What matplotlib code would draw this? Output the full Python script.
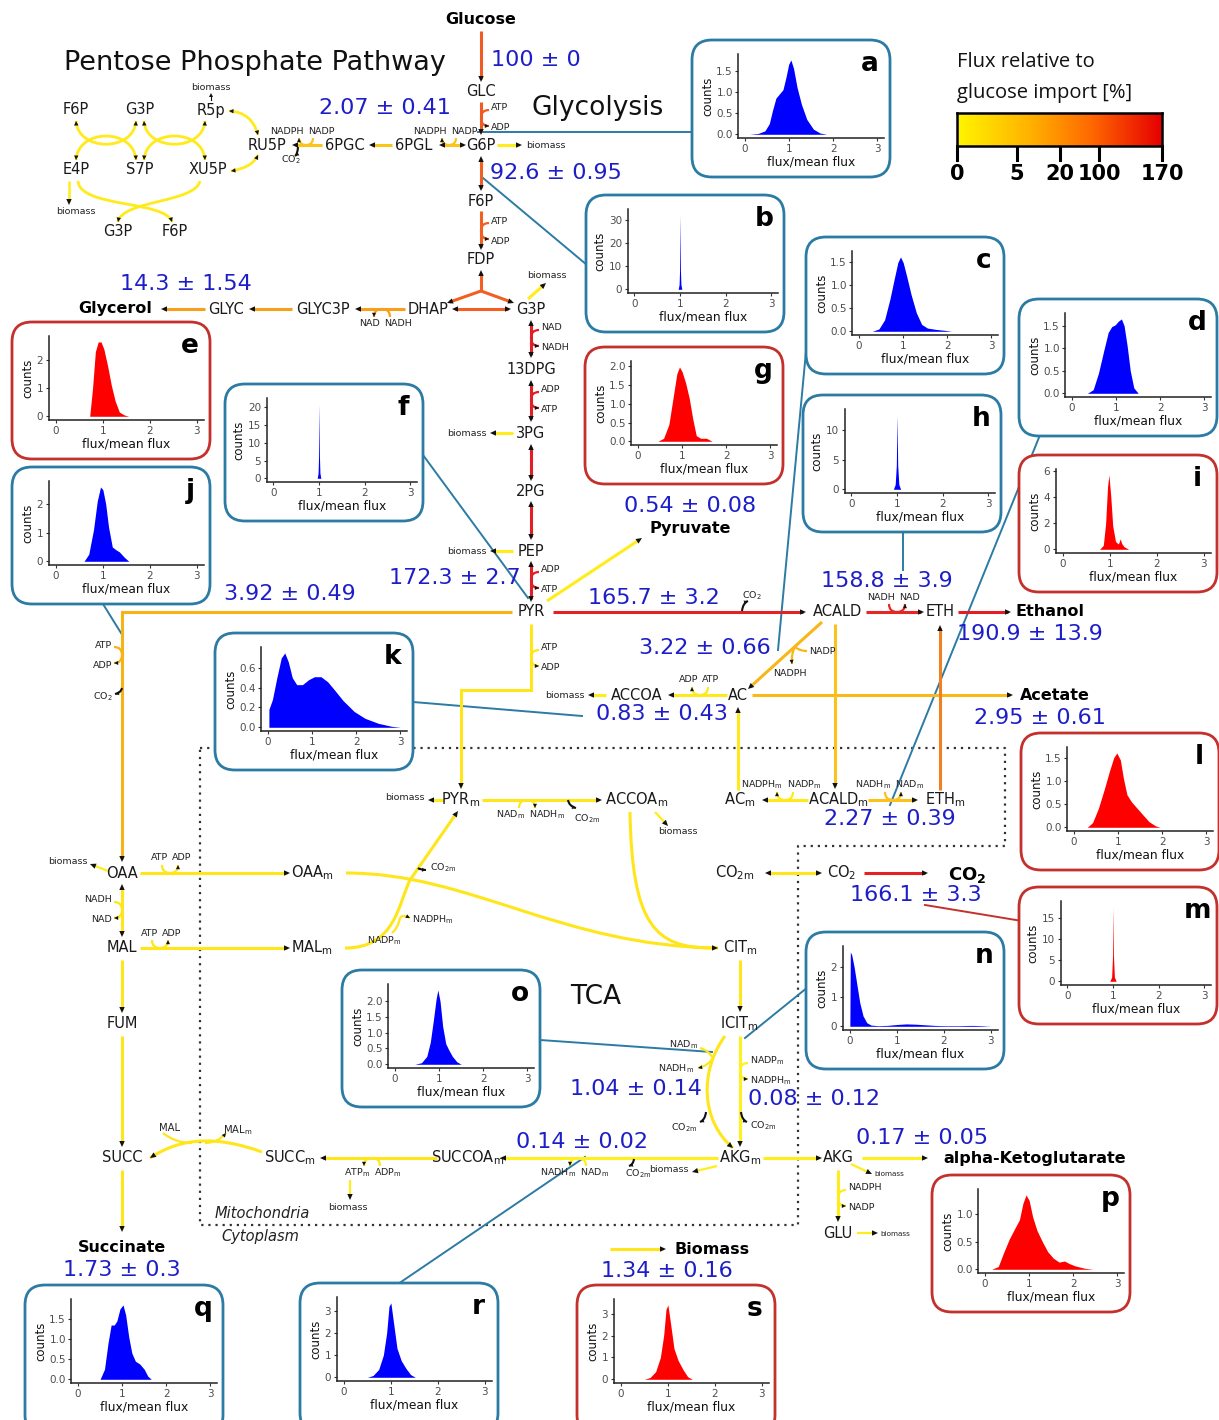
import numpy as np
import matplotlib
matplotlib.use("Agg")
import matplotlib.pyplot as plt
from matplotlib.patches import FancyBboxPatch, PathPatch, Polygon
from matplotlib.path import Path
from matplotlib.colors import LinearSegmentedColormap

plt.rcParams['font.family'] = ['DejaVu Sans']
plt.rcParams['mathtext.fontset'] = 'dejavusans'

# ======================= DATA =======================
# colour scale: flux relative to glucose import [%]
scale_ticks = [0, 5, 20, 100, 170]
scale_pos = [0.0, 0.293, 0.502, 0.693, 1.0]

# measured fluxes (mean +- sd, % of glucose import)
flux_mean = [100, 2.07, 92.6, 14.3, 172.3, 0.54, 3.92, 165.7, 158.8, 190.9, 3.22,
             0.83, 2.95, 2.27, 166.1, 1.04, 0.08, 0.14, 0.17, 1.34, 1.73]
flux_sd = [0, 0.41, 0.95, 1.54, 2.7, 0.08, 0.49, 3.2, 3.9, 13.9, 0.66,
           0.43, 0.61, 0.39, 3.3, 0.14, 0.12, 0.02, 0.05, 0.16, 0.3]

# density curves (flux/mean flux vs counts)
a_x = [0.10, 0.30, 0.45, 0.55, 0.62, 0.70, 0.78, 0.86, 0.93, 0.99, 1.04, 1.10, 1.18, 1.28, 1.40, 1.55, 1.70, 1.85]
a_y = [0.00, 0.02, 0.08, 0.25, 0.55, 0.85, 0.95, 1.05, 1.35, 1.65, 1.75, 1.55, 1.10, 0.70, 0.35, 0.12, 0.03, 0.00]
b_x = [0.96, 0.98, 0.99, 1.0, 1.01, 1.02, 1.04]
b_y = [0.0, 2.0, 8.0, 32.0, 8.0, 2.0, 0.0]
c_x = [0.30, 0.45, 0.58, 0.70, 0.80, 0.88, 0.94, 1.00, 1.08, 1.18, 1.30, 1.42, 1.55, 1.75, 1.95, 2.10]
c_y = [0.00, 0.05, 0.25, 0.70, 1.15, 1.50, 1.62, 1.50, 1.20, 0.80, 0.40, 0.15, 0.07, 0.04, 0.02, 0.00]
d_x = [0.35, 0.48, 0.60, 0.72, 0.82, 0.90, 0.98, 1.05, 1.12, 1.18, 1.25, 1.32, 1.40, 1.50]
d_y = [0.00, 0.08, 0.45, 0.95, 1.35, 1.48, 1.52, 1.60, 1.65, 1.50, 1.05, 0.50, 0.12, 0.00]
e_x = [0.72, 0.78, 0.84, 0.90, 0.96, 1.02, 1.10, 1.18, 1.26, 1.35, 1.45, 1.55]
e_y = [0.00, 1.00, 2.30, 2.65, 2.65, 2.40, 1.80, 1.10, 0.55, 0.15, 0.05, 0.00]
f_x = [0.96, 0.98, 0.99, 1.0, 1.01, 1.02, 1.04]
f_y = [0.0, 1.5, 6.0, 21.0, 6.0, 1.5, 0.0]
g_x = [0.45, 0.58, 0.70, 0.80, 0.88, 0.94, 1.00, 1.08, 1.16, 1.24, 1.32, 1.42, 1.55, 1.68]
g_y = [0.00, 0.08, 0.45, 1.20, 1.80, 1.98, 1.85, 1.55, 1.15, 0.60, 0.15, 0.08, 0.08, 0.00]
h_x = [0.92, 0.96, 0.985, 1.0, 1.015, 1.04, 1.08]
h_y = [0.0, 0.8, 4.0, 12.5, 4.0, 0.8, 0.0]
i_x = [0.78, 0.86, 0.91, 0.95, 0.98, 1.02, 1.06, 1.12, 1.18, 1.22, 1.25, 1.30, 1.40]
i_y = [0.00, 0.30, 2.00, 4.80, 5.70, 4.00, 1.80, 0.60, 0.40, 0.80, 0.45, 0.20, 0.00]
j_x = [0.60, 0.70, 0.80, 0.88, 0.95, 1.00, 1.06, 1.12, 1.20, 1.28, 1.35, 1.45, 1.55]
j_y = [0.00, 0.25, 1.10, 2.10, 2.60, 2.50, 2.00, 1.20, 0.50, 0.40, 0.33, 0.15, 0.00]
k_x = [0.02, 0.02, 0.10, 0.20, 0.30, 0.38, 0.46, 0.55, 0.65, 0.78, 0.92, 1.05, 1.20, 1.35, 1.50, 1.70, 1.95, 2.20, 2.50, 2.80, 3.00]
k_y = [0.00, 0.18, 0.28, 0.50, 0.70, 0.75, 0.66, 0.50, 0.43, 0.43, 0.48, 0.51, 0.51, 0.46, 0.38, 0.27, 0.16, 0.09, 0.04, 0.01, 0.00]
l_x = [0.30, 0.42, 0.55, 0.68, 0.80, 0.90, 0.97, 1.05, 1.12, 1.20, 1.30, 1.42, 1.55, 1.70, 1.85, 1.95]
l_y = [0.00, 0.10, 0.40, 0.80, 1.20, 1.50, 1.60, 1.45, 1.05, 0.70, 0.55, 0.42, 0.28, 0.12, 0.03, 0.00]
m_x = [0.93, 0.97, 0.99, 1.0, 1.01, 1.03, 1.07]
m_y = [0.0, 1.0, 6.0, 17.5, 6.0, 1.0, 0.0]
n_x = [0.00, 0.01, 0.04, 0.09, 0.15, 0.21, 0.28, 0.36, 0.45, 0.60, 0.80, 1.00, 1.20, 1.40, 1.60, 1.80, 2.00, 2.30, 2.60, 2.80, 3.00]
n_y = [0.00, 2.50, 2.40, 2.00, 1.40, 0.80, 0.35, 0.12, 0.04, 0.02, 0.03, 0.06, 0.08, 0.07, 0.05, 0.03, 0.02, 0.02, 0.03, 0.02, 0.00]
o_x = [0.45, 0.60, 0.72, 0.80, 0.87, 0.93, 0.97, 1.02, 1.08, 1.15, 1.22, 1.30, 1.40, 1.50]
o_y = [0.00, 0.05, 0.25, 0.70, 1.40, 2.05, 2.35, 2.00, 1.20, 0.65, 0.45, 0.25, 0.08, 0.00]
p_x = [0.15, 0.30, 0.42, 0.55, 0.68, 0.78, 0.86, 0.93, 1.00, 1.08, 1.18, 1.30, 1.42, 1.55, 1.68, 1.80, 1.92, 2.05, 2.25, 2.45]
p_y = [0.00, 0.05, 0.30, 0.55, 0.75, 0.90, 1.20, 1.35, 1.25, 0.95, 0.70, 0.50, 0.32, 0.20, 0.13, 0.15, 0.10, 0.06, 0.02, 0.00]
q_x = [0.50, 0.60, 0.68, 0.75, 0.82, 0.88, 0.95, 1.02, 1.08, 1.15, 1.22, 1.30, 1.40, 1.50, 1.58, 1.66]
q_y = [0.00, 0.25, 0.90, 1.35, 1.35, 1.45, 1.75, 1.85, 1.60, 1.05, 0.65, 0.45, 0.38, 0.25, 0.08, 0.00]
r_x = [0.50, 0.62, 0.74, 0.84, 0.91, 0.96, 1.00, 1.06, 1.13, 1.22, 1.32, 1.42, 1.52]
r_y = [0.00, 0.08, 0.35, 1.00, 2.00, 3.20, 3.35, 2.40, 1.30, 0.75, 0.40, 0.12, 0.00]
s_x = [0.50, 0.62, 0.74, 0.84, 0.91, 0.96, 1.00, 1.06, 1.13, 1.22, 1.32, 1.42, 1.52]
s_y = [0.00, 0.08, 0.35, 1.00, 2.00, 3.20, 3.40, 2.50, 1.40, 0.85, 0.45, 0.12, 0.00]

inset_xticks = [0, 1, 2, 3]
a_yt = [0, 0.5, 1, 1.5]; b_yt = [0, 10, 20, 30]; c_yt = [0, 0.5, 1, 1.5]; d_yt = [0, 0.5, 1, 1.5]
e_yt = [0, 1, 2]; f_yt = [0, 5, 10, 15, 20]; g_yt = [0, 0.5, 1, 1.5, 2]; h_yt = [0, 5, 10]
i_yt = [0, 2, 4, 6]; j_yt = [0, 1, 2]; k_yt = [0, 0.2, 0.4, 0.6]; l_yt = [0, 0.5, 1, 1.5]
m_yt = [0, 5, 10, 15]; n_yt = [0, 1, 2]; o_yt = [0, 0.5, 1, 1.5, 2]; p_yt = [0, 0.5, 1]
q_yt = [0, 0.5, 1, 1.5]; r_yt = [0, 1, 2, 3]; s_yt = [0, 1, 2, 3]

# ======================= FIGURE =======================
W, H = 1219, 1420
fig = plt.figure(figsize=(W / 100, H / 100), dpi=100)
fig.patch.set_facecolor('white')
ax = fig.add_axes([0, 0, 1, 1])
ax.set_xlim(0, W)
ax.set_ylim(H, 0)
ax.axis('off')

# colour of the reaction arrows
cmap = LinearSegmentedColormap.from_list(
    'flux', [(0.0, '#FFF21C'), (0.06, '#FFE61A'), (0.12, '#FAC51A'), (0.2, '#F7B518'),
             (0.42, '#F6A01B'), (0.7, '#F05A23'), (1.0, '#E31E24')])
# colour of the legend bar
cmap_bar = LinearSegmentedColormap.from_list(
    'bar', [(0.0, '#FFF500'), (0.35, '#FFB300'), (0.65, '#FF6A00'), (1.0, '#E60000')])


def col(v):
    return cmap(float(np.interp(v, scale_ticks, scale_pos)))


BLUE_T = '#1E1EC8'
NODE_C = '#1a1a1a'
CFS = 6.8


def head_at(tip, d, L=6.0, Wd=2.7, color='#111111', z=7):
    d = np.asarray(d, float)
    d = d / np.hypot(d[0], d[1])
    n = np.array([-d[1], d[0]])
    tip = np.asarray(tip, float)
    b = tip - L * d
    ax.add_patch(Polygon([tip, b + Wd * n, b - Wd * n], closed=True, fc=color, ec='none', zorder=z))


def arr(pts, v=None, color=None, lw=2.2, end=True, start=False, z=3):
    c = color if color is not None else col(v)
    p = np.array(pts, float)
    q = p.copy()
    if end:
        d = p[-1] - p[-2]; d /= np.hypot(*d); q[-1] = p[-1] - 3 * d
    if start:
        d = p[0] - p[1]; d /= np.hypot(*d); q[0] = p[0] - 3 * d
    ax.plot(q[:, 0], q[:, 1], color=c, lw=lw, solid_capstyle='butt', solid_joinstyle='miter', zorder=z)
    if end:
        head_at(p[-1], p[-1] - p[-2])
    if start:
        head_at(p[0], p[0] - p[1])


def bez(pts, color, lw=2.2, end=False, start=False, z=3, hl=6.0, hw=2.7):
    pts = [tuple(map(float, p)) for p in pts]
    n = len(pts)
    if n == 2:
        codes = [Path.MOVETO, Path.LINETO]
    elif n == 3:
        codes = [Path.MOVETO, Path.CURVE3, Path.CURVE3]
    else:
        codes = [Path.MOVETO] + [Path.CURVE4] * (n - 1)
    ax.add_patch(PathPatch(Path(pts, codes), fc='none', ec=color, lw=lw, zorder=z, capstyle='butt'))
    if end:
        head_at(pts[-1], np.subtract(pts[-1], pts[-2]), L=hl, Wd=hw)
    if start:
        head_at(pts[0], np.subtract(pts[0], pts[1]), L=hl, Wd=hw)


def lab(x, y, s, fs=CFS, ha='center', va='center', color='#222222', **kw):
    ax.text(x, y, s, fontsize=fs, ha=ha, va=va, color=color, zorder=8, **kw)


def node(x, y, s, fs=10.5, **kw):
    ax.text(x, y, s, fontsize=fs, ha='center', va='center', color=NODE_C, zorder=8, **kw)


def bold(x, y, s, fs=11.5, ha='center'):
    ax.text(x, y, s, fontsize=fs, ha=ha, va='center', color='black', fontweight='bold', zorder=8)


def cof(orient, x, y, side, flow, v, lin, lout, d=8.0, fs=CFS):
    c = col(v)
    if orient == 'v':
        s0 = (x + side * d, y - flow * d)
        e1 = (x + side * d, y + flow * d)
        bez([s0, (x, y - flow * d), (x, y)], c, 1.6)
        bez([(x, y), (x, y + flow * d), e1], c, 1.6, end=True, hl=4.2, hw=2.0)
        ha = 'left' if side > 0 else 'right'
        lab(x + side * (d + 2), y - flow * (d + 2), lin, fs, ha=ha)
        lab(x + side * (d + 2), y + flow * (d + 2), lout, fs, ha=ha)
    else:
        s0 = (x - flow * d, y + side * d)
        e1 = (x + flow * d, y + side * d)
        bez([s0, (x - flow * d, y), (x, y)], c, 1.6)
        bez([(x, y), (x + flow * d, y), e1], c, 1.6, end=True, hl=4.2, hw=2.0)
        yl = y + side * (d + 7)
        left_lab, right_lab = (lin, lout) if flow > 0 else (lout, lin)
        lab(x - 2, yl, left_lab, fs, ha='right')
        lab(x + 2, yl, right_lab, fs, ha='left')


def co2(x, y, dx, dy):
    bez([(x, y), (x + dx * 0.15, y + dy * 0.8), (x + dx, y + dy)], '#111111', 1.5, end=True, hl=4.0, hw=2.0)


CO2m = r'CO$_{2\mathrm{m}}$'
BIO = 'biomass'

# ----------------- titles -----------------
ax.text(255, 63, 'Pentose Phosphate Pathway', fontsize=19.5, ha='center', va='center', color='#111111')
ax.text(598, 108, 'Glycolysis', fontsize=19, ha='center', va='center', color='#111111')
ax.text(596, 997, 'TCA', fontsize=19, ha='center', va='center', color='#111111')
ax.text(262, 1214, 'Mitochondria', fontsize=10.5, style='italic', ha='center', va='center', color='#222222')
ax.text(260, 1236, 'Cytoplasm', fontsize=10.5, style='italic', ha='center', va='center', color='#222222')

# ----------------- glycolysis -----------------
bold(481, 20, 'Glucose')
node(481, 92, 'GLC'); node(481, 145, 'G6P'); node(481, 201, 'F6P'); node(481, 260, 'FDP')
node(428, 309, 'DHAP'); node(531, 309, 'G3P'); node(531, 369, '13DPG'); node(531, 433, '3PG')
node(531, 491, '2PG'); node(531, 551, 'PEP'); node(531, 612, 'PYR')

arr([(481, 31), (481, 82)], 100)
arr([(481, 102), (481, 135)], 100)
cof('v', 481, 118, +1, +1, 100, 'ATP', 'ADP')
arr([(481, 156), (481, 191)], 92.6, start=True)
arr([(481, 211), (481, 250)], 92.6)
cof('v', 481, 231, +1, +1, 92.6, 'ATP', 'ADP')
arr([(481, 291), (481, 270)], 92.6)
arr([(481, 291), (447, 303)], 92.6)
arr([(481, 291), (514, 303)], 92.6)
arr([(452, 309), (511, 309)], 92.6, start=True)
arr([(528, 299), (546, 283)], 0.5)
lab(547, 276, BIO)
arr([(531, 320), (531, 358)], 172.3, start=True)
cof('v', 531, 338, +1, +1, 172.3, 'NAD', 'NADH')
arr([(531, 380), (531, 422)], 172.3, start=True)
cof('v', 531, 400, +1, +1, 172.3, 'ADP', 'ATP')
arr([(513, 433), (490, 433)], 0.5)
lab(487, 433, BIO, ha='right')
arr([(531, 444), (531, 481)], 172.3, start=True)
arr([(531, 501), (531, 540)], 172.3, start=True)
arr([(513, 551), (490, 551)], 0.5)
lab(487, 551, BIO, ha='right')
arr([(531, 561), (531, 602)], 172.3, start=True)
cof('v', 531, 580, +1, +1, 172.3, 'ADP', 'ATP')

# ----------------- PPP -----------------
node(76, 110, 'F6P'); node(140, 110, 'G3P'); node(211, 110, 'R5p')
node(267, 145, 'RU5P'); node(345, 145, '6PGC'); node(414, 145, '6PGL')
node(76, 170, 'E4P'); node(140, 170, 'S7P'); node(208, 170, 'XU5P')
node(118, 232, 'G3P'); node(175, 232, 'F6P')
arr([(466, 145), (439, 145)], 2.07, start=True)
cof('h', 449, 145, -1, -1, 2.07, 'NADP', 'NADPH', d=7)
arr([(392, 145), (369, 145)], 2.07)
arr([(322, 145), (292, 145)], 2.07)
cof('h', 306, 145, -1, -1, 2.07, 'NADP', 'NADPH', d=7)
co2(298, 147, -3, 9)
lab(291, 160, r'CO$_2$')
arr([(497, 145), (522, 145)], 0.5)
lab(526, 145, BIO, ha='left')
yc = col(0.6)
bez([(76, 121), (78, 152), (134, 152), (136, 121)], yc, 2.0, end=True, start=True, hl=4.5, hw=2.2)
bez([(76, 160), (78, 128), (134, 128), (136, 160)], yc, 2.0, end=True, start=True, hl=4.5, hw=2.2)
bez([(144, 121), (146, 152), (203, 152), (205, 121)], yc, 2.0, end=True, start=True, hl=4.5, hw=2.2)
bez([(144, 160), (146, 128), (203, 128), (205, 160)], yc, 2.0, end=True, start=True, hl=4.5, hw=2.2)
bez([(78, 181), (80, 208), (165, 200), (172, 222)], yc, 2.0, end=True, hl=4.5, hw=2.2)
bez([(200, 181), (195, 203), (122, 200), (118, 222)], yc, 2.0, end=True, hl=4.5, hw=2.2)
bez([(229, 111), (252, 112), (258, 135)], yc, 2.0, end=True, start=True, hl=4.5, hw=2.2)
bez([(231, 171), (252, 168), (258, 155)], yc, 2.0, end=True, start=True, hl=4.5, hw=2.2)
head_at((211, 93), (0, -1), L=4, Wd=2)
ax.plot([211, 211], [100, 95], color='#111111', lw=0.8, zorder=4)
lab(211, 88, BIO)
arr([(69, 181), (69, 205)], 0.5, lw=1.8)
lab(76, 212, BIO)

# ----------------- glycerol -----------------
bold(115, 309, 'Glycerol')
node(226, 309, 'GLYC'); node(323, 309, 'GLYC3P')
arr([(405, 309), (355, 309)], 14.3)
cof('h', 382, 309, +1, -1, 14.3, 'NADH', 'NAD')
arr([(292, 309), (249, 309)], 14.3)
arr([(205, 309), (161, 309)], 14.3)

# ----------------- pyruvate branch -----------------
bold(690, 528, 'Pyruvate')
node(838, 612, 'ACALD'); node(940, 612, 'ETH'); node(738, 695, 'AC'); node(637, 695, 'ACCOA')
bold(1050, 612, 'Ethanol', ha='center')
bold(1055, 695, 'Acetate')
arr([(547, 601), (642, 538)], 0.54)
arr([(553, 612), (806, 612)], 165.7)
co2(742, 611, 6, -10)
lab(752, 596, r'CO$_2$')
arr([(866, 612), (924, 612)], 158.8)
cof('h', 897, 612, -1, +1, 158.8, 'NADH', 'NAD')
arr([(958, 612), (1011, 612)], 190.9)
arr([(512, 612), (122, 612), (122, 862)], 3.92)
cof('v', 122, 655, -1, +1, 3.92, 'ATP', 'ADP')
co2(122, 688, -7, 6)
lab(113, 697, r'CO$_2$', ha='right')
arr([(531, 624), (531, 690), (461, 690), (461, 789)], 1.0)
cof('v', 531, 658, +1, +1, 1.0, 'ATP', 'ADP')
arr([(822, 622), (748, 689)], 3.22)
bez([(807, 651), (800, 651), (795, 647)], col(3.22), 1.6)
bez([(795, 647), (791, 654), (792, 664)], col(3.22), 1.6, end=True, hl=4.2, hw=2.0)
lab(809, 651, 'NADP', ha='left')
lab(790, 674, 'NADPH')
arr([(727, 695), (668, 695)], 0.83)
cof('h', 700, 695, -1, -1, 0.83, 'ATP', 'ADP')
arr([(606, 695), (588, 695)], 0.5)
lab(585, 695, BIO, ha='right')
arr([(752, 695), (1013, 695)], 2.95)
arr([(835, 624), (835, 789)], 2.27)
arr([(940, 790), (940, 625)], 40)
arr([(738, 790), (738, 707)], 0.8)

# ----------------- mitochondria -----------------
xs = [200, 1005, 1005, 798, 798, 200, 200]
ys = [748, 748, 846, 846, 1225, 1225, 748]
ax.plot(xs, ys, ls=(0, (1, 2.2)), color='#333333', lw=1.6, zorder=2)

node(461, 800, r'PYR$_{\mathrm{m}}$'); node(637, 800, r'ACCOA$_{\mathrm{m}}$')
node(740, 800, r'AC$_{\mathrm{m}}$'); node(838, 800, r'ACALD$_{\mathrm{m}}$'); node(945, 800, r'ETH$_{\mathrm{m}}$')
node(312, 873, r'OAA$_{\mathrm{m}}$'); node(312, 948, r'MAL$_{\mathrm{m}}$')
node(740, 948, r'CIT$_{\mathrm{m}}$'); node(740, 1024, r'ICIT$_{\mathrm{m}}$'); node(740, 1158, r'AKG$_{\mathrm{m}}$')
node(468, 1158, r'SUCCOA$_{\mathrm{m}}$'); node(290, 1158, r'SUCC$_{\mathrm{m}}$'); node(735, 873, r'CO$_{2\mathrm{m}}$')
node(122, 873, 'OAA'); node(122, 948, 'MAL'); node(122, 1024, 'FUM'); node(122, 1158, 'SUCC')
node(842, 873, r'CO$_2$'); node(838, 1158, 'AKG'); node(838, 1233, 'GLU')
ax.text(967, 875, r'$\mathbf{CO_2}$', fontsize=13, ha='center', va='center', zorder=8)
bold(1035, 1159, 'alpha-Ketoglutarate')
bold(712, 1249, 'Biomass')
bold(122, 1248, 'Succinate')

arr([(808, 800), (762, 800)], 0.8)
cof('h', 785, 800, -1, -1, 0.8, r'NADP$_{\mathrm{m}}$', r'NADPH$_{\mathrm{m}}$')
arr([(868, 800), (918, 800)], 2.27)
cof('h', 893, 800, -1, +1, 2.27, r'NADH$_{\mathrm{m}}$', r'NAD$_{\mathrm{m}}$')
arr([(444, 800), (428, 800)], 0.5)
lab(425, 798, BIO, ha='right')
arr([(482, 800), (602, 800)], 1.0)
cof('h', 527, 800, +1, +1, 1.0, r'NAD$_{\mathrm{m}}$', r'NADH$_{\mathrm{m}}$')
co2(568, 800, 8, 8)
lab(587, 819, CO2m)
arr([(655, 812), (668, 826)], 0.5, lw=1.6)
lab(678, 832, BIO)
arr([(108, 871), (90, 864)], 0.5, lw=1.6)
lab(88, 861, BIO, ha='right')
arr([(140, 873), (290, 873)], 1.0)
cof('h', 170, 873, -1, +1, 1.0, 'ATP', 'ADP')
arr([(122, 884), (122, 937)], 1.0, start=True)
cof('v', 122, 910, -1, +1, 1.0, 'NADH', 'NAD')
arr([(140, 948), (290, 948)], 1.0)
cof('h', 160, 948, -1, +1, 1.0, 'ATP', 'ADP')
arr([(122, 960), (122, 1013)], 1.0)
arr([(122, 1036), (122, 1147)], 1.0)
arr([(122, 1170), (122, 1232)], 1.0)
bez([(262, 1152), (215, 1135), (180, 1138), (150, 1158)], col(1.0), 2.2, end=True)
bez([(163, 1133), (175, 1143), (192, 1143)], col(1.0), 1.6)
bez([(205, 1143), (218, 1143), (226, 1133)], col(1.0), 1.6, end=True, hl=4.2, hw=2.0)
lab(170, 1128, 'MAL', fs=7.2)
lab(238, 1130, r'MAL$_{\mathrm{m}}$', fs=7.2)
arr([(437, 1158), (320, 1158)], 1.0)
cof('h', 372, 1158, +1, -1, 1.0, r'ADP$_{\mathrm{m}}$', r'ATP$_{\mathrm{m}}$')
arr([(350, 1180), (350, 1200)], 0.5, lw=1.6)
lab(348, 1207, BIO)
arr([(718, 1158), (500, 1158)], 0.14)
cof('h', 578, 1158, +1, -1, 0.14, r'NAD$_{\mathrm{m}}$', r'NADH$_{\mathrm{m}}$')
co2(634, 1159, -5, 7)
lab(638, 1174, CO2m)
arr([(717, 1166), (692, 1172)], 0.5, lw=1.6)
lab(689, 1170, BIO, ha='right')
arr([(763, 1158), (822, 1158)], 0.5)
arr([(862, 1158), (928, 1158)], 0.17)
arr([(851, 1164), (872, 1174)], 0.5, lw=1.6)
lab(874, 1174, BIO, fs=5.2, ha='left')
arr([(838, 1170), (838, 1222)], 0.5)
cof('v', 838, 1198, +1, +1, 0.5, 'NADPH', 'NADP')
arr([(857, 1233), (878, 1233)], 0.5, lw=1.6)
lab(880, 1234, BIO, fs=5.2, ha='left')
arr([(765, 873), (822, 873)], 1.0, start=True)
arr([(864, 873), (928, 873)], 166.1)
arr([(740, 960), (740, 1012)], 1.0)
arr([(740, 1036), (740, 1147)], 0.08)
cof('v', 740, 1071, +1, +1, 0.08, r'NADP$_{\mathrm{m}}$', r'NADPH$_{\mathrm{m}}$')
co2(741, 1112, 6, 10)
lab(750, 1126, CO2m, ha='left')
bez([(725, 1036), (700, 1070), (700, 1120), (733, 1148)], col(1.04), 2.2, end=True)
bez([(700, 1048), (708, 1050), (713, 1058)], col(1.04), 1.6)
bez([(713, 1058), (708, 1066), (698, 1068)], col(1.04), 1.6, end=True, hl=4.2, hw=2.0)
lab(698, 1045, r'NAD$_{\mathrm{m}}$', ha='right')
lab(694, 1069, r'NADH$_{\mathrm{m}}$', ha='right')
co2(706, 1112, -6, 10)
lab(697, 1128, CO2m, ha='right')
bez([(346, 873), (470, 873), (560, 946), (718, 948)], col(1.0), 2.2, end=True)
bez([(630, 812), (632, 925), (655, 948), (712, 948)], col(1.0), 2.2)
bez([(345, 948), (395, 948), (398, 905), (410, 880)], col(1.0), 2.2)
arr([(410, 880), (458, 811)], 1.0)
bez([(392, 933), (398, 928), (400, 918)], col(1.0), 1.6)
bez([(400, 918), (402, 914), (410, 918)], col(1.0), 1.6, end=True, hl=4.2, hw=2.0)
lab(412, 920, r'NADPH$_{\mathrm{m}}$', ha='left')
lab(384, 941, r'NADP$_{\mathrm{m}}$')
co2(418, 868, 8, 2)
lab(430, 868, CO2m, ha='left')

# Biomass legend arrow
arr([(610, 1249), (666, 1249)], 1.0)

# ----------------- flux values -----------------
flux_pos = [(536, 60), (385, 108), (556, 173), (186, 284), (455, 578), (690, 506), (290, 594),
            (654, 598), (887, 581), (1030, 634), (705, 648), (662, 714), (1040, 718), (890, 819),
            (916, 895), (636, 1089), (814, 1099), (582, 1142), (922, 1138), (667, 1271), (122, 1270)]
for (x, y), mv, sv in zip(flux_pos, flux_mean, flux_sd):
    ax.text(x, y, f'{mv:g} \u00b1 {sv:g}', fontsize=16, color=BLUE_T, ha='center', va='center', zorder=9)

# ----------------- colour bar -----------------
ax.text(957, 62, 'Flux relative to', fontsize=14.5, family='Open Sans', ha='left', va='center', color='#111111')
ax.text(957, 93, 'glucose import [%]', fontsize=14.5, family='Open Sans', ha='left', va='center', color='#111111')
bx0, bx1, by0, by1 = 957, 1162, 113, 146
cax = fig.add_axes([bx0 / W, 1 - by1 / H, (bx1 - bx0) / W, (by1 - by0) / H])
cax.imshow(np.linspace(0, 1, 256)[None, :], aspect='auto', cmap=cmap_bar, extent=[0, 1, 0, 1])
cax.set_xticks([]); cax.set_yticks([])
for sp in cax.spines.values():
    sp.set_linewidth(1.8)
for t, pz in zip(scale_ticks, scale_pos):
    xt = bx0 + pz * (bx1 - bx0)
    ax.plot([xt, xt], [by1, by1 + 14], color='black', lw=2.2, zorder=5)
    ax.text(xt, by1 + 28, str(t), fontsize=15, fontweight='bold', ha='center', va='center', zorder=8)

# ----------------- connectors -----------------
CB = '#2C7BA5'
CR = '#C4312C'
conn = [((478, 132), (692, 132), CB), ((483, 178), (587, 265), CB), ((808, 330), (778, 650), CB),
        ((1040, 435), (890, 805), CB), ((423, 455), (528, 598), CB), ((903, 531), (903, 570), CB),
        ((103, 604), (121, 633), CB), ((413, 702), (582, 716), CB), ((925, 905), (1022, 921), CR),
        ((745, 1038), (808, 987), CB), ((540, 1040), (712, 1052), CB), ((398, 1284), (585, 1157), CB)]
for p0, p1, c in conn:
    ax.plot([p0[0], p1[0]], [p0[1], p1[1]], color=c, lw=1.4, zorder=2.5)


# ----------------- insets -----------------
def inset(letter, bx, by, kind, xs, ys, yt, bh=137):
    bw = 198
    ec = CB if kind == 'b' else CR
    fc = '#0000FF' if kind == 'b' else '#FF0000'
    ax.add_patch(FancyBboxPatch((bx, by), bw, bh, boxstyle='round,pad=0,rounding_size=20',
                                fc='white', ec=ec, lw=2.0, zorder=20))
    frac = any(abs(t - round(t)) > 1e-9 for t in yt)
    ytl = [f'{t:.1f}' for t in yt] if frac else [f'{int(t)}' for t in yt]
    nch = max(len(s) for s in ytl)
    left = bx + 32 + 4.8 * nch
    right = bx + bw - 6
    top = by + 14
    bottom = by + 98
    iax = fig.add_axes([left / W, 1 - bottom / H, (right - left) / W, (bottom - top) / H])
    iax.set_facecolor('none')
    iax.fill_between(xs, ys, 0, color=fc, lw=0)
    pk = max(ys)
    iax.set_xlim(-0.15, 3.15)
    iax.set_ylim(-0.05 * pk, 1.08 * pk)
    iax.set_xticks(inset_xticks)
    iax.set_yticks(yt)
    iax.set_yticklabels(ytl)
    iax.tick_params(labelsize=7.5, colors='#4D4D4D', length=2.5, width=0.8, pad=1.5)
    iax.tick_params(axis='both', color='#333333')
    for k in ('top', 'right'):
        iax.spines[k].set_visible(False)
    for k in ('left', 'bottom'):
        iax.spines[k].set_linewidth(1.1)
        iax.spines[k].set_color('#222222')
    iax.set_xlabel('flux/mean flux', fontsize=8.8, labelpad=1.5, color='#111111')
    iax.set_ylabel('counts', fontsize=8.5, labelpad=1.5, color='#111111')
    ax.text(bx + bw - 20, by + 24, letter, fontsize=19, fontweight='bold', ha='center', va='center',
            zorder=25)


inset('a', 692, 40, 'b', a_x, a_y, a_yt)
inset('b', 586, 195, 'b', b_x, b_y, b_yt)
inset('c', 806, 237, 'b', c_x, c_y, c_yt)
inset('d', 1019, 299, 'b', d_x, d_y, d_yt)
inset('e', 12, 322, 'r', e_x, e_y, e_yt)
inset('f', 225, 384, 'b', f_x, f_y, f_yt)
inset('g', 585, 347, 'r', g_x, g_y, g_yt)
inset('h', 803, 395, 'b', h_x, h_y, h_yt)
inset('i', 1019, 455, 'r', i_x, i_y, i_yt)
inset('j', 12, 467, 'b', j_x, j_y, j_yt)
inset('k', 215, 633, 'b', k_x, k_y, k_yt)
inset('l', 1021, 733, 'r', l_x, l_y, l_yt)
inset('m', 1019, 887, 'r', m_x, m_y, m_yt)
inset('n', 806, 932, 'b', n_x, n_y, n_yt)
inset('o', 342, 970, 'b', o_x, o_y, o_yt)
inset('p', 932, 1175, 'r', p_x, p_y, p_yt)
inset('q', 25, 1285, 'b', q_x, q_y, q_yt, bh=150)
inset('r', 300, 1283, 'b', r_x, r_y, r_yt, bh=150)
inset('s', 577, 1285, 'r', s_x, s_y, s_yt, bh=150)

fig.savefig('out.png', dpi=100, facecolor='white')
